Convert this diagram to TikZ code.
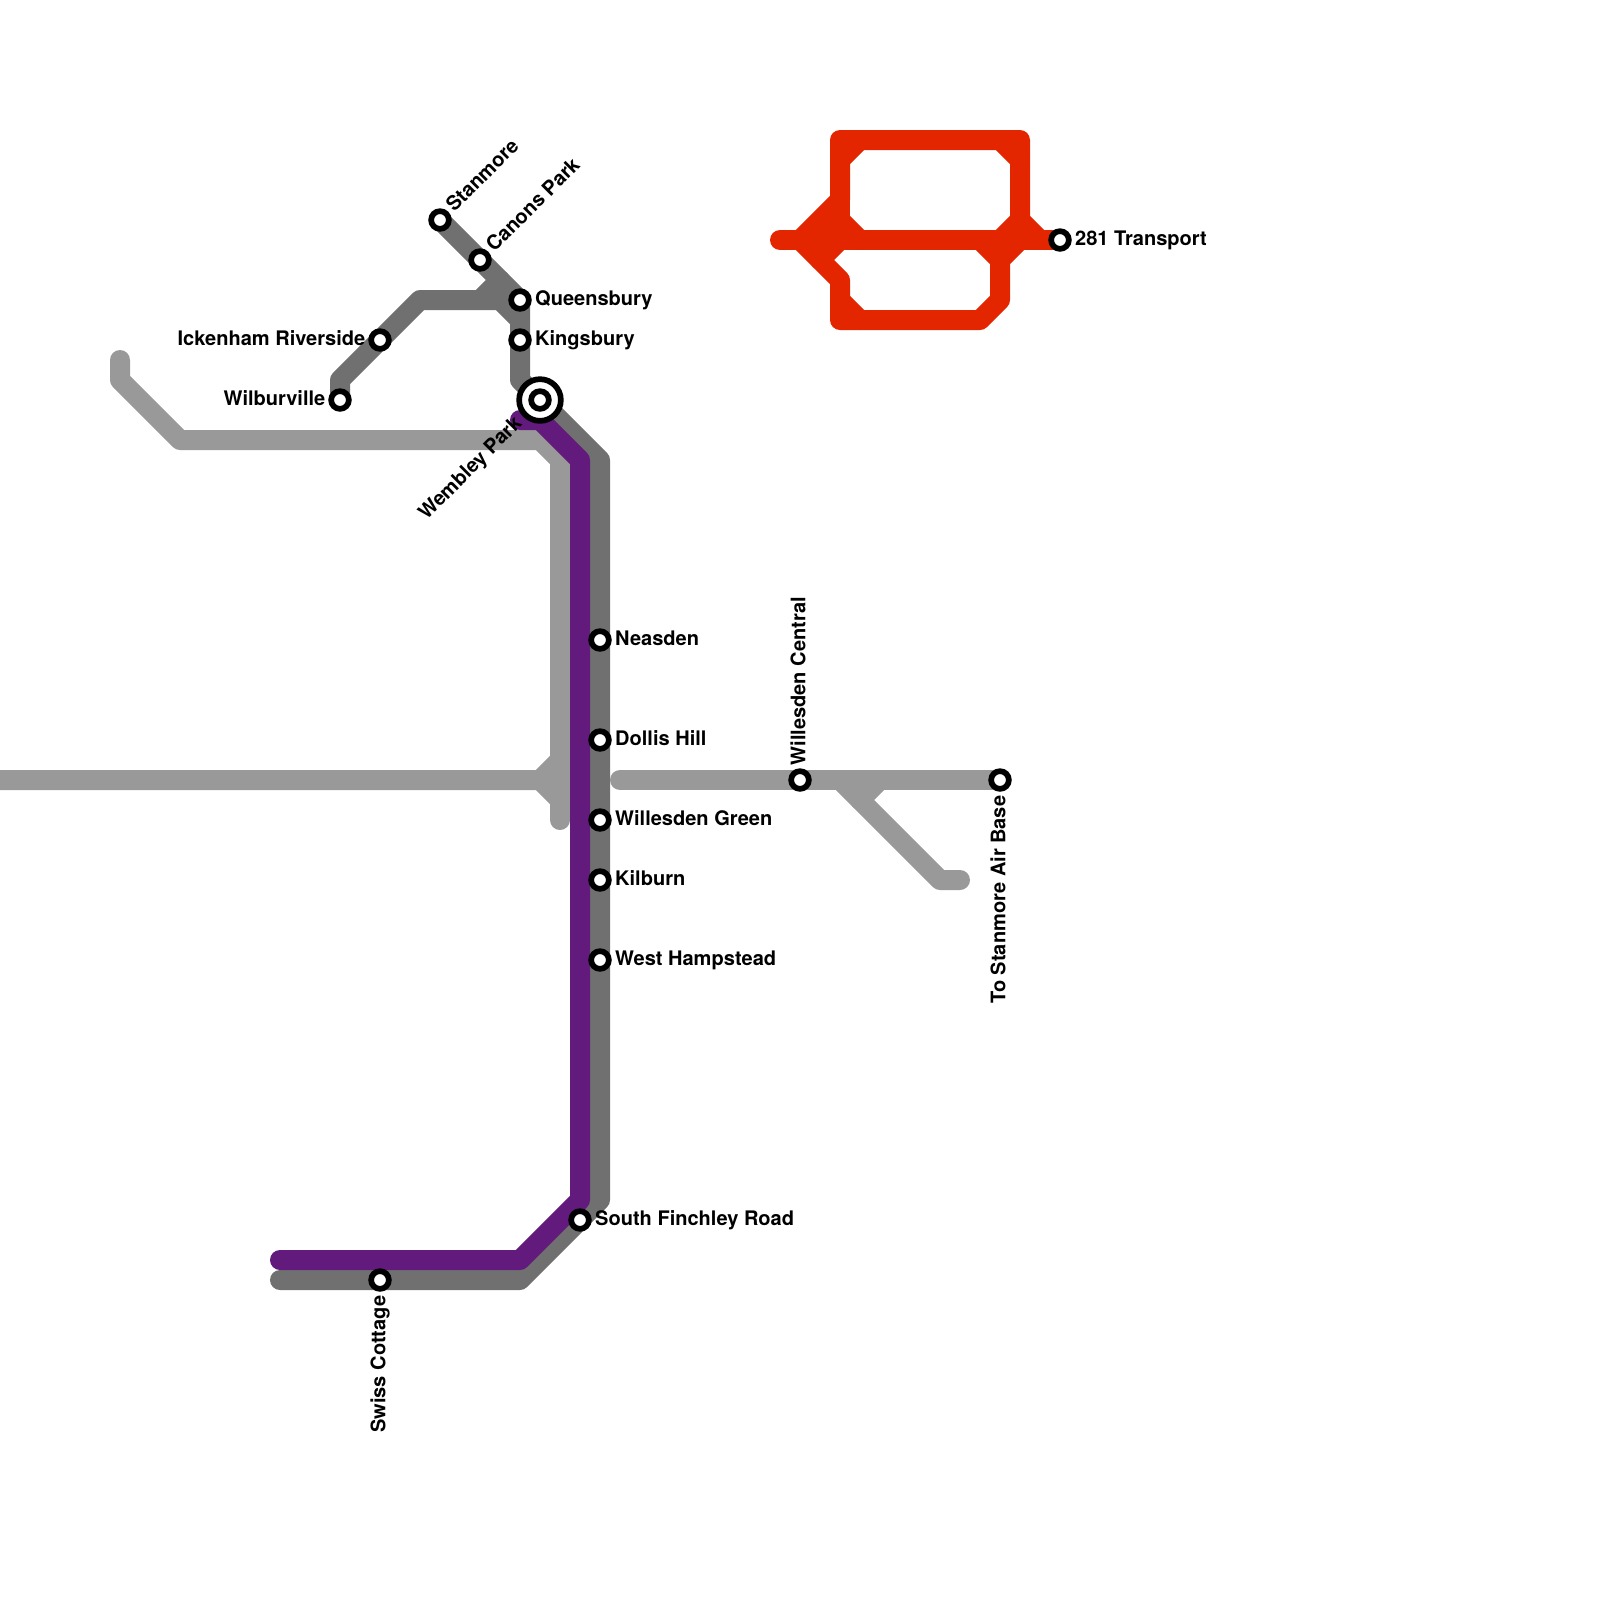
\documentclass[tikz,border=0pt]{standalone}
\usepackage{fontspec}
\setmainfont{TeX Gyre Heros}
\usepackage{xcolor}
\definecolor{darkline}{HTML}{707070}
\definecolor{lightline}{HTML}{999999}
\definecolor{plumline}{HTML}{621A7C}
\definecolor{redline}{HTML}{E42600}

\begin{document}
\begin{tikzpicture}[
    x=0.2cm, y=-0.2cm,
    metro/.style={line width=0.2cm, line cap=round, line join=round},
    stop/.style={circle, draw=black, fill=white, line width=0.057cm, minimum size=0.177cm, inner sep=0pt},
    hub/.style={stop, minimum size=0.417cm},
    lbl/.style={font=\bfseries\fontsize{5.7pt}{6pt}\selectfont, inner sep=0pt, text=black,
                text height=4.2pt, text depth=1.2pt}
]
  \useasboundingbox (0,0) rectangle (80,80);

  % Stops as coordinates, so the lines can run through them
  \coordinate (stanmore) at (22,11);
  \coordinate (canons) at (24,13);
  \coordinate (queensbury) at (26,15);
  \coordinate (kingsbury) at (26,17);
  \coordinate (ickenham) at (19,17);
  \coordinate (wilburville) at (17,20);
  \coordinate (wembley) at (27,20);
  \coordinate (neasden) at (30,32);
  \coordinate (dollis) at (30,37);
  \coordinate (wgreen) at (30,41);
  \coordinate (kilburn) at (30,44);
  \coordinate (whamp) at (30,48);
  \coordinate (finchley) at (29,61);
  \coordinate (swiss) at (19,64);
  \coordinate (wcentral) at (40,39);
  \coordinate (airbase) at (50,39);
  \coordinate (transport) at (53,12);

  % Dark grey line and its branch
  \draw[metro, darkline] (stanmore) -- (queensbury) -- (26,19) -- (wembley) -- (30,23)
        -- (30,60) -- (26,64) -- (14,64);
  \draw[metro, darkline] (wilburville) -- (17,19) -- (21,15) -- (25,15) -- (26,16);
  \draw[metro, darkline] (24,15) -- (25,14);

  % Light grey line
  \draw[metro, lightline] (6,18) -- (6,19) -- (9,22) -- (27,22) -- (28,23) -- (28,41);
  \draw[metro, lightline] (0,39) -- (27,39) -- (28,38);
  \draw[metro, lightline] (27,39) -- (28,40);
  \draw[metro, lightline] (31,39) -- (airbase);
  \draw[metro, lightline] (42,39) -- (47,44) -- (48,44);
  \draw[metro, lightline] (43,40) -- (44,39);

  % Purple line
  \draw[metro, plumline] (26,21) -- (27,21) -- (29,23) -- (29,60) -- (26,63) -- (14,63);

  % Red loops
  \draw[metro, redline] (39,12) -- (transport);
  \draw[metro, redline] (40,12) -- (42,10) -- (42,7) -- (51,7) -- (51,11) -- (52,12);
  \draw[metro, redline] (40,12) -- (42,14) -- (42,16) -- (49,16) -- (50,15) -- (50,13) -- (51,12);
  \draw[metro, redline] (42,10) -- (42,12);
  \draw[metro, redline] (41,12) -- (42,11);
  \draw[metro, redline] (42,8) -- (43,7);
  \draw[metro, redline] (50,7) -- (51,8);
  \draw[metro, redline] (42,11) -- (43,12);
  \draw[metro, redline] (51,11) -- (50,12);
  \draw[metro, redline] (41,13) -- (42,12);
  \draw[metro, redline] (42,15) -- (43,16);
  \draw[metro, redline] (49,12) -- (50,13);

  % Station markers
  \node[stop] (stanmoreStop) at (stanmore) {};
  \node[stop] (canonsStop) at (canons) {};
  \node[stop] (queensburyStop) at (queensbury) {};
  \node[stop] (kingsburyStop) at (kingsbury) {};
  \node[stop] (ickenhamStop) at (ickenham) {};
  \node[stop] (wilburvilleStop) at (wilburville) {};
  \node[hub] (wembleyHub) at (wembley) {};
  \node[stop] (wembleyStop) at (wembley) {};
  \node[stop] (neasdenStop) at (neasden) {};
  \node[stop] (dollisStop) at (dollis) {};
  \node[stop] (wgreenStop) at (wgreen) {};
  \node[stop] (kilburnStop) at (kilburn) {};
  \node[stop] (whampStop) at (whamp) {};
  \node[stop] (finchleyStop) at (finchley) {};
  \node[stop] (swissStop) at (swiss) {};
  \node[stop] (wcentralStop) at (wcentral) {};
  \node[stop] (airbaseStop) at (airbase) {};
  \node[stop] (transportStop) at (transport) {};

  % Labels
  \node[lbl, anchor=west, rotate=45] (stanmoreText) at ([shift={(45:0.145cm)}] stanmore) {Stanmore};
  \node[lbl, anchor=west, rotate=45] (canonsText) at ([shift={(45:0.145cm)}] canons) {Canons Park};
  \node[lbl, anchor=west] (queensburyText) at ([xshift=0.145cm] queensbury) {Queensbury};
  \node[lbl, anchor=west] (kingsburyText) at ([xshift=0.145cm] kingsbury) {Kingsbury};
  \node[lbl, anchor=east] (ickenhamText) at ([xshift=-0.14cm] ickenham) {Ickenham Riverside};
  \node[lbl, anchor=east] (wilburvilleText) at ([xshift=-0.14cm] wilburville) {Wilburville};
  \node[lbl, anchor=east, rotate=45] (wembleyText) at ([shift={(225:0.29cm)}] wembley) {Wembley Park};
  \node[lbl, anchor=west] (neasdenText) at ([xshift=0.145cm] neasden) {Neasden};
  \node[lbl, anchor=west] (dollisText) at ([xshift=0.145cm] dollis) {Dollis Hill};
  \node[lbl, anchor=west] (wgreenText) at ([xshift=0.145cm] wgreen) {Willesden Green};
  \node[lbl, anchor=west] (kilburnText) at ([xshift=0.145cm] kilburn) {Kilburn};
  \node[lbl, anchor=west] (whampText) at ([xshift=0.145cm] whamp) {West Hampstead};
  \node[lbl, anchor=west] (finchleyText) at ([xshift=0.145cm] finchley) {South Finchley Road};
  \node[lbl, anchor=east, rotate=90] (swissText) at ([yshift=-0.15cm] swiss) {Swiss Cottage};
  \node[lbl, anchor=west, rotate=90] (wcentralText) at ([yshift=0.14cm] wcentral) {Willesden Central};
  \node[lbl, anchor=east, rotate=90] (airbaseText) at ([yshift=-0.15cm] airbase) {To Stanmore Air Base};
  \node[lbl, anchor=west] (transportText) at ([xshift=0.145cm] transport) {281 Transport};
\end{tikzpicture}
\end{document}
